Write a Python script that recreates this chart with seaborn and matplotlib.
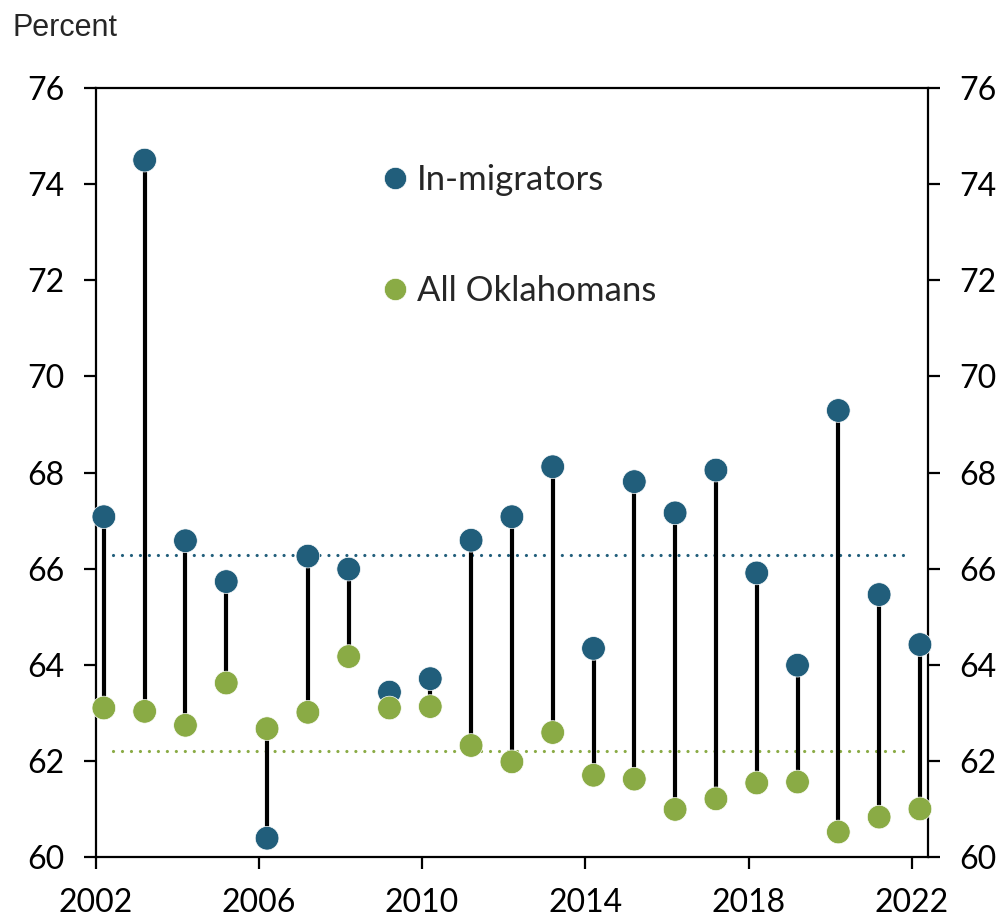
import numpy as np
import pandas as pd
import matplotlib
matplotlib.use("Agg")
import matplotlib.pyplot as plt
from matplotlib.lines import Line2D
import seaborn as sns

# Data (percent)
years = list(range(2002, 2023))
in_migrators = [67.08, 74.50, 66.58, 65.73, 60.39, 66.26, 65.99, 63.43, 63.71, 66.59,
                67.08, 68.12, 64.34, 67.81, 67.16, 68.05, 65.91, 63.99, 69.29, 65.46, 64.42]
all_oklahomans = [63.10, 63.03, 62.74, 63.62, 62.67, 63.01, 64.17, 63.10, 63.13, 62.32,
                  61.98, 62.59, 61.70, 61.62, 60.99, 61.21, 61.54, 61.56, 60.52, 60.83, 61.00]
avg_in = 66.28
avg_all = 62.21
series_names = ["In-migrators", "All Oklahomans"]
colors = ["#215e7b", "#8aab45"]

# points sit a bit after the year mark
x_pos = [y + 0.2 for y in years]

df = pd.DataFrame({
    "x": x_pos * 2,
    "value": in_migrators + all_oklahomans,
    "series": [series_names[0]] * len(years) + [series_names[1]] * len(years),
})

sns.set_style("white")
plt.rcParams["font.family"] = ["Lato", "DejaVu Sans"]

fig = plt.figure(figsize=(10.04, 9.19), dpi=100)
ax = fig.add_axes([0.0953, 0.0675, 0.8287, 0.8367])

# connectors
ax.vlines(x_pos, all_oklahomans, in_migrators, color="black", linewidth=3.0, zorder=2)

# average lines
for val, c in [(avg_in, colors[0]), (avg_all, colors[1])]:
    ax.hlines(val, 2002.42, 2021.92, color=c, linestyle=(0, (0.01, 2.8)),
              linewidth=2.3, capstyle="round", zorder=1)

sns.scatterplot(data=df, x="x", y="value", hue="series", palette=colors,
                s=290, edgecolor="white", linewidth=0.5, ax=ax, zorder=3,
                legend=False, clip_on=False)

ax.set_xlim(2002, 2022.39)
ax.set_ylim(60, 76)
ax.set_xticks(range(2002, 2023, 4))
ax.set_yticks(range(60, 77, 2))
ax.set_xlabel("")
ax.set_ylabel("")

for sp in ax.spines.values():
    sp.set_visible(True)
    sp.set_color("black")
    sp.set_linewidth(1.6)

ax.tick_params(axis="both", which="both", direction="out", length=8.5, width=1.6,
               labelsize=23, pad=14, colors="black")
ax.tick_params(axis="y", left=True, right=True, labelleft=True, labelright=True)
ax.tick_params(axis="x", bottom=True, top=False)

handles = [Line2D([], [], marker="o", linestyle="none", markersize=16,
                  markerfacecolor=c, markeredgecolor="white", markeredgewidth=0.5)
           for c in colors]
ax.legend(handles, series_names, loc="upper left", bbox_to_anchor=(0.318, 0.924),
          frameon=False, fontsize=25, labelspacing=2.28, handletextpad=0.12,
          handlelength=1.0, borderpad=0)

fig.text(0.012, 0.969, "Percent", fontsize=22, family=["Liberation Sans", "DejaVu Sans"],
         va="center", ha="left")

fig.savefig("out.png", dpi=100)
